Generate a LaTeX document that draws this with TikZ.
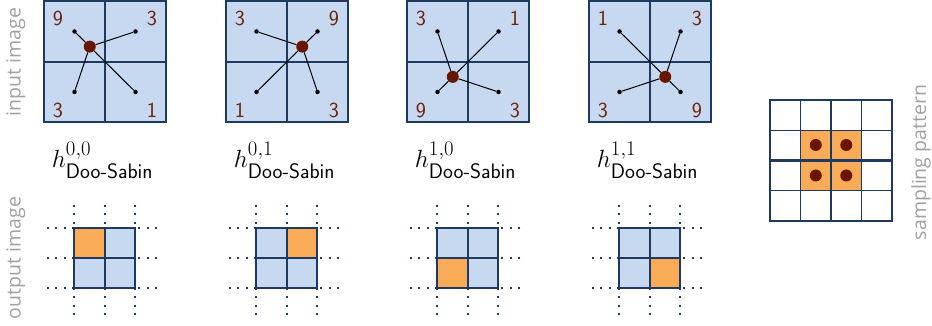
\documentclass[tikz,border=0pt]{standalone}
\usepackage{fontspec}
\usepackage{amsmath}
\newfontfamily\sidefont{Open Sans}
\definecolor{cellblue}{HTML}{C6D9F1}
\definecolor{lineblue}{HTML}{1F3A60}
\definecolor{cellorange}{HTML}{F9AB57}
\definecolor{dotred}{HTML}{6A1500}
\definecolor{numred}{HTML}{6F2008}
\definecolor{sidegray}{HTML}{A0A0A0}
\tikzset{
  frame/.style={draw=lineblue, line width=1.7pt},
  thickframe/.style={draw=lineblue, line width=2.6pt},
  thinframe/.style={draw=lineblue, line width=1.2pt},
  sdot/.style={circle, fill=black, inner sep=0pt, minimum size=4.5pt},
  bdot/.style={circle, fill=dotred, inner sep=0pt, minimum size=12pt},
  num/.style={text=numred, font=\sffamily\fontsize{21.5}{21.5}\selectfont},
  conn/.style={draw=black, line width=1pt},
  side/.style={text=sidegray, font=\sidefont\fontsize{19.5}{20}\selectfont, rotate=90, anchor=base},
  hlabel/.style={font=\fontsize{30}{34}\selectfont, anchor=base},
  gdot/.style={draw=lineblue, line width=1.6pt, dash pattern=on 2pt off 6.3pt}
}
\begin{document}
\begin{tikzpicture}[x=1pt,y=1pt]
\useasboundingbox (0,0) rectangle (932,326);

% side labels
\node[side] (lin) at (20.5,264) {input image};
\node[side] (lout) at (20.5,68) {output image};
\node[side] (lsamp) at (926,163.5) {sampling pattern};

\foreach \i/\X/\a/\b/\nTL/\nTR/\nBL/\nBR in {0/44/0/0/9/3/3/1, 1/226/0/1/3/9/1/3, 2/407/1/0/3/1/9/3, 3/589/1/1/1/3/3/9}{
  % input image
  \fill[cellblue] (\X,204) rectangle ++(122,121);
  \draw[frame] (\X,204) rectangle ++(122,121);
  \draw[frame] (\X+61,204) -- ++(0,121);
  \draw[frame] (\X,264) -- ++(122,0);
  \node[num] (ntl\i) at (\X+14,308) {\nTL};
  \node[num] (ntr\i) at (\X+108,308) {\nTR};
  \node[num] (nbl\i) at (\X+14,216) {\nBL};
  \node[num] (nbr\i) at (\X+108,216) {\nBR};
  \node[sdot] (tl\i) at (\X+30.5,294.5) {};
  \node[sdot] (tr\i) at (\X+91.5,294.5) {};
  \node[sdot] (bl\i) at (\X+30.5,234) {};
  \node[sdot] (br\i) at (\X+91.5,234) {};
  \pgfmathsetmacro{\bx}{\X+30.5+61*(\nTR+\nBR)/16}
  \pgfmathsetmacro{\by}{294.5-60.5*(\nBL+\nBR)/16}
  \node[bdot] (c\i) at (\bx,\by) {};
  \draw[conn] (c\i) -- (tl\i);
  \draw[conn] (c\i) -- (tr\i);
  \draw[conn] (c\i) -- (bl\i);
  \draw[conn] (c\i) -- (br\i);
  % label
  \node[hlabel] (h\i) at (\X+58.5,158) {$h^{\a,\b}_{\text{\sffamily Doo-Sabin}}$};
  % output image
  \foreach \xx in {30,61,91}{
    \draw[gdot] (\X+\xx,11) -- ++(0,115);
  }
  \foreach \yy in {38,68,98}{
    \draw[gdot] (\X+3,\yy) -- ++(116,0);
  }
  \fill[cellblue] (\X+30,38) rectangle ++(61,60);
  \fill[cellorange] (\X+30+31*\b,68-30*\a) rectangle ++(30,30);
  \draw[frame] (\X+30,38) rectangle ++(61,60);
  \draw[frame] (\X+61,38) -- ++(0,60);
  \draw[frame] (\X+30,68) -- ++(61,0);
}

% sampling pattern
\fill[cellorange] (800.5,135.25) rectangle (861.5,195.75);
\foreach \k in {1,3}{
  \draw[thinframe] (770+30.5*\k,105) -- ++(0,121);
  \draw[thinframe] (770,105+30.25*\k) -- ++(122,0);
}
\draw[thickframe] (770,105) rectangle (892,226);
\draw[thickframe] (831,105) -- (831,226);
\draw[thickframe] (770,165.5) -- (892,165.5);
\node[bdot] (s1) at (815.75,181) {};
\node[bdot] (s2) at (846.25,181) {};
\node[bdot] (s3) at (815.75,150.5) {};
\node[bdot] (s4) at (846.25,150.5) {};
\end{tikzpicture}
\end{document}
